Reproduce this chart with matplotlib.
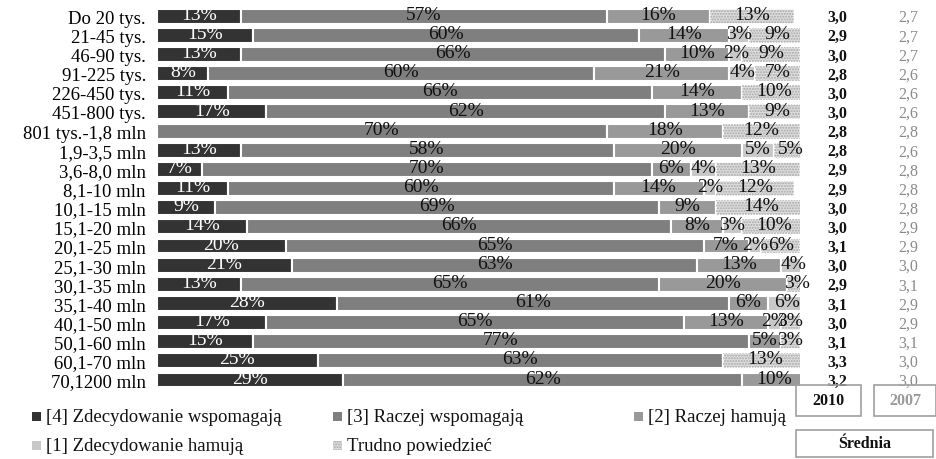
import matplotlib
matplotlib.use("Agg")
import matplotlib.pyplot as plt
from matplotlib.patches import Rectangle
import numpy as np

plt.rcParams['font.family'] = ['Liberation Serif', 'DejaVu Serif']

categories = [
    "Do 20 tys.", "21-45 tys.", "46-90 tys.", "91-225 tys.", "226-450 tys.",
    "451-800 tys.", "801 tys.-1,8 mln", "1,9-3,5 mln", "3,6-8,0 mln",
    "8,1-10 mln", "10,1-15 mln", "15,1-20 mln", "20,1-25 mln", "25,1-30 mln",
    "30,1-35 mln", "35,1-40 mln", "40,1-50 mln", "50,1-60 mln", "60,1-70 mln",
    "70,1200 mln",
]

# percentages per answer category
zdec_wsp = [13, 15, 13, 8, 11, 17, 0, 13, 7, 11, 9, 14, 20, 21, 13, 28, 17, 15, 25, 29]
racz_wsp = [57, 60, 66, 60, 66, 62, 70, 58, 70, 60, 69, 66, 65, 63, 65, 61, 65, 77, 63, 62]
racz_ham = [16, 14, 10, 21, 14, 13, 18, 20, 6, 14, 9, 8, 7, 13, 20, 6, 13, 5, 0, 10]
zdec_ham = [0, 3, 2, 4, 0, 0, 0, 5, 4, 2, 0, 3, 2, 4, 0, 6, 2, 0, 0, 0]
trudno = [13, 9, 9, 7, 10, 9, 12, 5, 13, 12, 14, 10, 6, 0, 3, 0, 3, 3, 13, 0]

avg_2010 = ["3,0", "2,9", "3,0", "2,8", "3,0", "3,0", "2,8", "2,8", "2,9", "2,9",
            "3,0", "3,0", "3,1", "3,0", "2,9", "3,1", "3,0", "3,1", "3,3", "3,2"]
avg_2007 = ["2,7", "2,7", "2,7", "2,6", "2,6", "2,6", "2,8", "2,6", "2,8", "2,8",
            "2,8", "2,9", "2,9", "3,0", "3,1", "2,9", "2,9", "3,1", "3,0", "3,0"]

series_labels = ["[4] Zdecydowanie wspomagają", "[3] Raczej wspomagają",
                 "[2] Raczej hamują", "[1] Zdecydowanie hamują", "Trudno powiedzieć"]

series = [zdec_wsp, racz_wsp, racz_ham, zdec_ham, trudno]
colors = ["#333333", "#7f7f7f", "#999999", "#c8c8c8", "#dedede"]
text_colors = ["white", "#111111", "#111111", "#111111", "#111111"]
hatch_color = "#a8a8a8"

W, H = 936, 460
fig = plt.figure(figsize=(W / 100, H / 100), dpi=100)
fig.patch.set_facecolor("white")

plt.rcParams['hatch.linewidth'] = 1.0

ax = fig.add_axes([157 / W, 1 - 390.6 / H, 643 / W, 383 / H])
n = len(categories)
y = np.arange(n)
bar_h = 0.78

left = np.zeros(n)
for i, (vals, col) in enumerate(zip(series, colors)):
    vals = np.array(vals, dtype=float)
    ax.barh(y, vals, left=left, height=bar_h, color=col, edgecolor="white",
            linewidth=1.5, zorder=2)
    if i == 4:
        # dotted texture for "no opinion"
        ax.barh(y, vals, left=left, height=bar_h, facecolor="none",
                edgecolor=hatch_color, linewidth=0, hatch="......", zorder=3)
    for j in range(n):
        if vals[j] > 0:
            ax.text(left[j] + vals[j] / 2, y[j] - 0.1, f"{int(vals[j])}%",
                    ha="center", va="center", fontsize=14,
                    color=text_colors[i], zorder=5, clip_on=False)
    left += vals

ax.set_xlim(0, 100)
ax.set_ylim(n - 0.5, -0.5)
ax.set_yticks(y)
ax.set_yticklabels(categories, fontsize=13.5)
ax.tick_params(axis="y", length=0, pad=8)
ax.set_xticks([])
for s in ax.spines.values():
    s.set_visible(False)

# mean score columns
x10 = (837 - 157) / 643 * 100
x07 = (908 - 157) / 643 * 100
for j in range(n):
    ax.text(x10, y[j] + 0.05, avg_2010[j], ha="center", va="center",
            fontsize=11.5, fontweight="bold", color="#111111", clip_on=False)
    ax.text(x07, y[j] + 0.05, avg_2007[j], ha="center", va="center",
            fontsize=11.5, color="#8a8a8a", clip_on=False)


def px_rect(x0, y0, x1, y1, **kw):
    r = Rectangle((x0 / W, 1 - y1 / H), (x1 - x0) / W, (y1 - y0) / H,
                  transform=fig.transFigure, **kw)
    fig.add_artist(r)
    return r


# boxes for the mean-score header
px_rect(796, 386, 861, 417, fill=False, edgecolor="#a0a0a0", lw=1.2)
px_rect(874, 386, 936, 417, fill=False, edgecolor="#a0a0a0", lw=1.2)
px_rect(796, 431, 933, 458, fill=False, edgecolor="#a0a0a0", lw=1.2)
fig.text(828.5 / W, 1 - 401.5 / H, "2010", ha="center", va="center",
         fontsize=11.5, fontweight="bold", color="#111111")
fig.text(905 / W, 1 - 401.5 / H, "2007", ha="center", va="center",
         fontsize=11.5, fontweight="bold", color="#9a9a9a")
fig.text(864.5 / W, 1 - 444.5 / H, "Średnia", ha="center", va="center",
         fontsize=11.5, fontweight="bold", color="#111111")

# legend
legend_pos = [(32, 418), (333, 418), (634, 418), (32, 447), (333, 447)]
for i, (lx, ly) in enumerate(legend_pos):
    px_rect(lx, ly - 5, lx + 9, ly + 4, facecolor=colors[i], edgecolor="none")
    if i == 4:
        px_rect(lx, ly - 5, lx + 9, ly + 4, facecolor="none",
                edgecolor=hatch_color, lw=0, hatch="......")
    fig.text((lx + 14) / W, 1 - ly / H, series_labels[i], ha="left",
             va="center", fontsize=13.5, color="#111111")

fig.savefig("out.png", dpi=100, facecolor="white")
